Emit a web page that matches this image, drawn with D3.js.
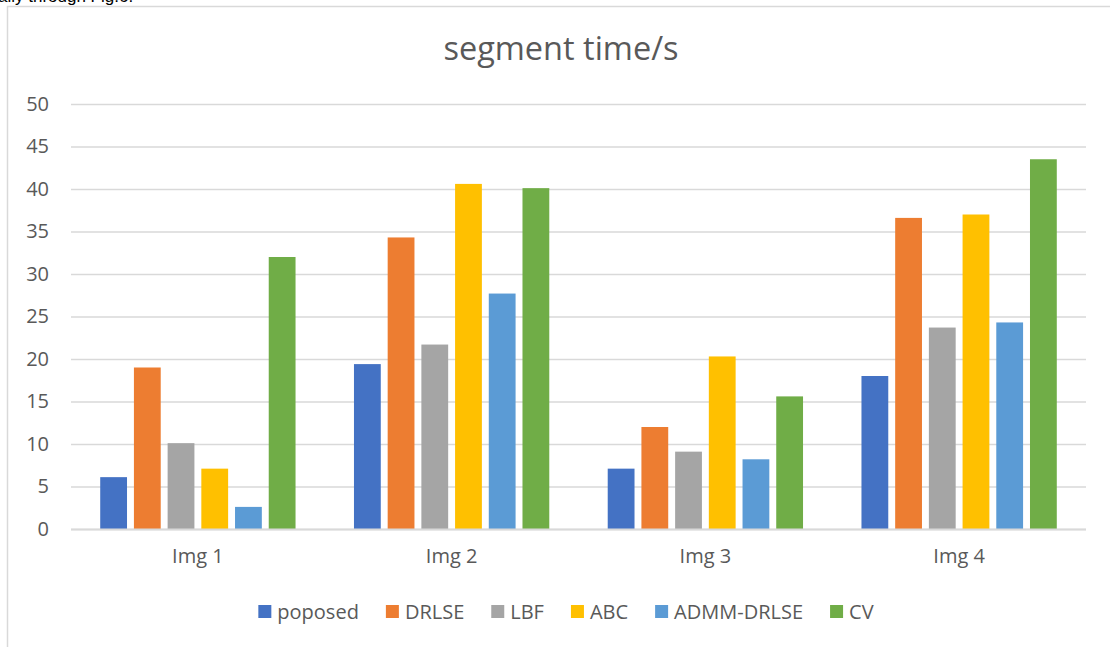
<!DOCTYPE html>
<html>
<head>
<meta charset="utf-8">
<script src="https://cdn.jsdelivr.net/npm/d3@7"></script>
<style>
  html, body { margin: 0; padding: 0; background: #fff; }
  svg { display: block; }
  text { font-family: "Open Sans", "Noto Sans", sans-serif; }
</style>
</head>
<body>
<svg id="chart" width="1110" height="647"></svg>
<script>
// Segment time (seconds) per image for each method
const categories = ["Img 1", "Img 2", "Img 3", "Img 4"];
const seriesNames = ["poposed", "DRLSE", "LBF", "ABC", "ADMM-DRLSE", "CV"];
const poposed   = [6.1, 19.4, 7.1, 18.0];
const drlse     = [19.0, 34.3, 12.0, 36.6];
const lbf       = [10.1, 21.7, 9.1, 23.7];
const abc       = [7.1, 40.6, 20.3, 37.0];
const admmDrlse = [2.6, 27.7, 8.2, 24.3];
const cv        = [32.0, 40.1, 15.6, 43.5];
const yTicks = [0, 5, 10, 15, 20, 25, 30, 35, 40, 45, 50];
const colors = ["#4472C4", "#ED7D31", "#A5A5A5", "#FFC000", "#5B9BD5", "#70AD47"];

const seriesValues = [poposed, drlse, lbf, abc, admmDrlse, cv];
const rows = categories.map((c, i) => ({
  category: c,
  values: seriesNames.map((s, j) => ({ series: s, value: seriesValues[j][i] }))
}));

const svg = d3.select("#chart");
const textColor = "#595959";
const gridColor = "#D9D9D9";

// clipped caption line from the surrounding page
svg.append("text")
  .attr("x", -2).attr("y", 2)
  .style("font-family", "Arial, 'Liberation Sans', sans-serif")
  .style("font-size", "17px")
  .attr("fill", "#000")
  .text("ally through Fig.6.");

// chart frame (left and top edges visible)
svg.append("path")
  .attr("d", "M7.5,647 V6.5 H1110")
  .attr("fill", "none")
  .attr("stroke", gridColor)
  .attr("stroke-width", 1.5);

const plot = { left: 71, right: 1086, top: 104, bottom: 529 };

const x0 = d3.scaleBand().domain(categories).range([plot.left, plot.right]).paddingInner(0).paddingOuter(0);
const x1 = d3.scaleBand().domain(seriesNames).range([0, x0.bandwidth()]).paddingInner(0.205).paddingOuter(0.867);
const y = d3.scaleLinear().domain([0, 50]).range([plot.bottom, plot.top]);
const color = d3.scaleOrdinal().domain(seriesNames).range(colors);

// title
svg.append("text")
  .attr("x", 561).attr("y", 60)
  .attr("text-anchor", "middle")
  .style("font-size", "32.5px")
  .attr("fill", textColor)
  .text("segment time/s");

// horizontal gridlines and value labels
const yAxis = d3.axisLeft(y).tickValues(yTicks).tickSize(-(plot.right - plot.left)).tickPadding(22).tickFormat(d3.format("d"));
const gy = svg.append("g").attr("transform", `translate(${plot.left},0)`).call(yAxis);
gy.select(".domain").remove();
gy.selectAll(".tick line").attr("stroke", gridColor).attr("stroke-width", 1.3);
gy.selectAll(".tick text")
  .attr("fill", textColor)
  .style("font-size", "20px")
  .style("font-family", "'Open Sans', sans-serif");

// bars
svg.append("g").selectAll("g")
  .data(rows)
  .join("g")
  .attr("transform", d => `translate(${x0(d.category)},0)`)
  .selectAll("rect")
  .data(d => d.values)
  .join("rect")
  .attr("x", d => x1(d.series))
  .attr("width", x1.bandwidth())
  .attr("y", d => y(d.value))
  .attr("height", d => y(0) - y(d.value))
  .attr("fill", d => color(d.series));

// baseline
svg.append("line")
  .attr("x1", plot.left).attr("x2", plot.right)
  .attr("y1", plot.bottom + 0.5).attr("y2", plot.bottom + 0.5)
  .attr("stroke", gridColor).attr("stroke-width", 2);

// category labels
const xAxis = d3.axisBottom(x0).tickSize(0).tickPadding(20);
const gx = svg.append("g").attr("transform", `translate(0,${plot.bottom})`).call(xAxis);
gx.select(".domain").remove();
gx.selectAll(".tick text")
  .attr("fill", textColor)
  .style("font-size", "20px")
  .style("font-family", "'Open Sans', sans-serif");

// legend, laid out from measured item widths and centred
const legend = svg.append("g");
const items = legend.selectAll("g").data(seriesNames).join("g");
items.append("rect")
  .attr("width", 13).attr("height", 13)
  .attr("y", -14)
  .attr("fill", d => color(d));
items.append("text")
  .attr("x", 19)
  .attr("fill", textColor)
  .style("font-size", "20px")
  .text(d => d);
const gap = 27;
const widths = items.nodes().map(n => n.getBBox().width);
const total = d3.sum(widths) + gap * (widths.length - 1);
let cx = 566 - total / 2;
items.attr("transform", (d, i) => {
  const t = `translate(${cx},619)`;
  cx += widths[i] + gap;
  return t;
});
</script>
</body>
</html>
